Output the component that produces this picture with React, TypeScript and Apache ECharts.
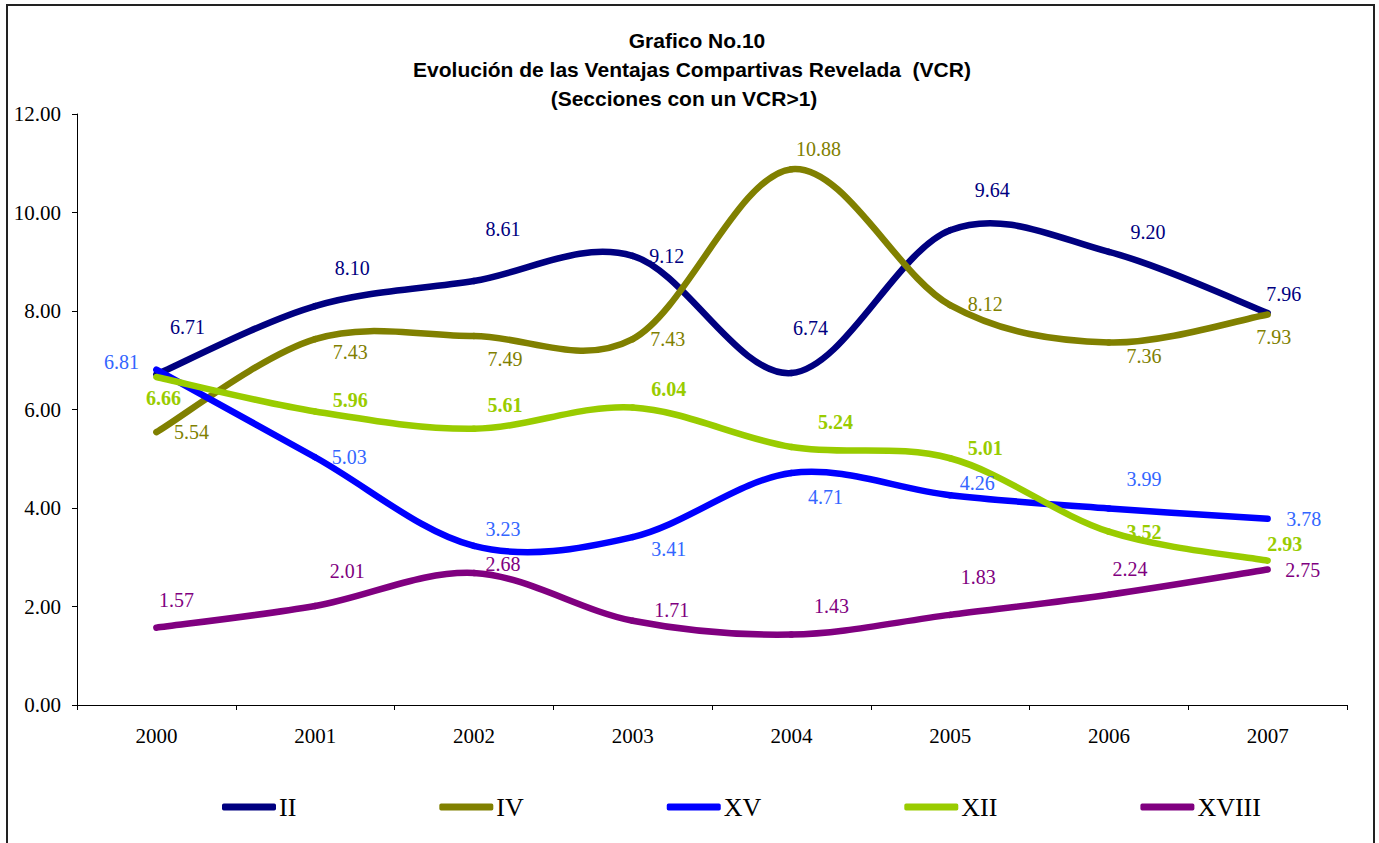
import React, { useEffect, useRef } from "react";
import * as echarts from "echarts";

const years = ["2000", "2001", "2002", "2003", "2004", "2005", "2006", "2007"];
const seriesNames = ["II", "IV", "XV", "XII", "XVIII"];
const valuesII = [6.71, 8.10, 8.61, 9.12, 6.74, 9.64, 9.20, 7.96];
const valuesIV = [5.54, 7.43, 7.49, 7.43, 10.88, 8.12, 7.36, 7.93];
const valuesXV = [6.81, 5.03, 3.23, 3.41, 4.71, 4.26, 3.99, 3.78];
const valuesXII = [6.66, 5.96, 5.61, 6.04, 5.24, 5.01, 3.52, 2.93];
const valuesXVIII = [1.57, 2.01, 2.68, 1.71, 1.43, 1.83, 2.24, 2.75];
const yTicks = { min: 0, max: 12, interval: 2 };
const titleLines = [
  "Grafico No.10",
  "Evolución de las Ventajas Compartivas Revelada  (VCR)",
  "(Secciones con un VCR>1)",
];

// label offsets (pixels, label centre relative to its point)
const offII = [[31, -48], [37, -38], [29, -52], [34, 0], [19, -45], [42, -40], [39, -20], [16, -19]];
const offIV = [[35, 0], [35, 13], [31, 23], [35, 0], [27, -20], [35, -1], [35, 13], [6, 23]];
const offXV = [[-35, -8], [34, 0], [29, -17], [36, 12], [34, 24], [27, -12], [35, -29], [36, 0]];
const offXII = [[7, 21], [35, -11], [31, -24], [36, -19], [44, -25], [35, -10], [35, 0], [17, -17]];
const offXVIII = [[20, -28], [32, -35], [29, -9], [39, -11], [40, -29], [28, -38], [21, -26], [35, 0]];

const lineColors = ["#000080", "#808000", "#0000FF", "#99CC00", "#800080"];
const labelColors = ["#000080", "#808000", "#3366FF", "#99CC00", "#800080"];
const labelBold = [false, false, false, true, false];

const SERIF = "'Liberation Serif', 'Times New Roman', serif";
const SANS = "'Liberation Sans', Arial, sans-serif";

export default function App() {
  const ref = useRef<HTMLDivElement>(null);
  useEffect(() => {
    if (!ref.current) return;
    const chart = echarts.init(ref.current, undefined, { renderer: "svg" });
    const allValues = [valuesII, valuesIV, valuesXV, valuesXII, valuesXVIII];
    const allOffsets = [offII, offIV, offXV, offXII, offXVIII];

    // Smoothed (Catmull-Rom style, like the spreadsheet's smoothed lines) curve series
    const curveSeries = seriesNames.map((name, si) => {
      const vals = allValues[si];
      return {
        name,
        type: "custom",
        coordinateSystem: "cartesian2d",
        itemStyle: { color: lineColors[si] },
        encode: { x: 0, y: 1 },
        z: 2,
        silent: true,
        data: vals.map((v, i) => [i, v]),
        renderItem: (params: any, api: any) => {
          const i = params.dataIndex;
          const n = vals.length;
          if (i >= n - 1) return { type: "group", children: [] };
          const p = (k: number) => {
            const kk = Math.max(0, Math.min(n - 1, k));
            return api.coord([kk, vals[kk]]);
          };
          const p0 = p(i - 1);
          const p1 = p(i);
          const p2 = p(i + 1);
          const p3 = p(i + 2);
          const t = 1 / 6;
          return {
            type: "bezierCurve",
            shape: {
              x1: p1[0],
              y1: p1[1],
              cpx1: p1[0] + (p2[0] - p0[0]) * t,
              cpy1: p1[1] + (p2[1] - p0[1]) * t,
              cpx2: p2[0] - (p3[0] - p1[0]) * t,
              cpy2: p2[1] - (p3[1] - p1[1]) * t,
              x2: p2[0],
              y2: p2[1],
            },
            style: {
              stroke: lineColors[si],
              fill: "none",
              lineWidth: 6.5,
              lineCap: "round",
            },
          };
        },
      };
    });

    const labelData: number[][] = [];
    allValues.forEach((vals, si) => vals.forEach((v, i) => labelData.push([i, v, si])));

    const labelSeries = {
      name: "labels",
      type: "custom",
      coordinateSystem: "cartesian2d",
      encode: { x: 0, y: 1 },
      z: 5,
      silent: true,
      data: labelData,
      renderItem: (params: any, api: any) => {
        const item = labelData[params.dataIndex];
        const i = item[0];
        const v = item[1];
        const si = item[2];
        const c = api.coord([i, v]);
        const off = allOffsets[si][i];
        return {
          type: "text",
          x: c[0] + off[0],
          y: c[1] + off[1],
          style: {
            text: v.toFixed(2),
            fill: labelColors[si],
            fontFamily: "Liberation Serif",
            fontSize: 20,
            fontWeight: labelBold[si] ? "bold" : "normal",
            align: "center",
            verticalAlign: "middle",
            textAlign: "center",
            textVerticalAlign: "middle",
          },
        };
      },
    };

    chart.setOption({
      animation: false,
      backgroundColor: "#ffffff",
      legend: {
        data: seriesNames.map((name, si) => ({ name, itemStyle: { color: lineColors[si] } })),
        left: 217,
        top: 789,
        itemWidth: 54,
        itemHeight: 7,
        itemGap: 143,
        icon: "roundRect",
        textStyle: { fontFamily: SERIF, fontSize: 26, color: "#000", lineHeight: 26, padding: [0, 0, 0, -2] },
        selectedMode: false,
      },
      grid: { left: 77, right: 32, top: 114, bottom: 138, containLabel: false },
      xAxis: {
        type: "category",
        data: years,
        boundaryGap: true,
        axisLine: { show: true, lineStyle: { color: "#000", width: 1 } },
        axisTick: { show: true, length: 5, inside: false, lineStyle: { color: "#000" } },
        axisLabel: { fontFamily: SERIF, fontSize: 21, color: "#000", margin: 20 },
        splitLine: { show: false },
      },
      yAxis: {
        type: "value",
        min: yTicks.min,
        max: yTicks.max,
        interval: yTicks.interval,
        axisLine: { show: true, lineStyle: { color: "#000", width: 1 } },
        axisTick: { show: true, length: 5, inside: false, lineStyle: { color: "#000" } },
        axisLabel: {
          fontFamily: SERIF,
          fontSize: 21,
          color: "#000",
          margin: 16,
          formatter: (v: number) => v.toFixed(2),
        },
        splitLine: { show: false },
      },
      graphic: [
        {
          type: "rect",
          shape: { x: 7, y: 5, width: 1367, height: 870 },
          style: { fill: "none", stroke: "#222", lineWidth: 2 },
          silent: true,
        },
        ...titleLines.map((t, k) => ({
          type: "text",
          x: [697, 692, 684][k],
          y: 40 + k * 29,
          silent: true,
          style: {
            text: t,
            fill: "#000",
            fontFamily: "Liberation Sans",
            fontWeight: "bold",
            fontSize: 21,
            align: "center",
            verticalAlign: "middle",
            textAlign: "center",
            textVerticalAlign: "middle",
          },
        })),
      ],
      series: [...curveSeries, labelSeries],
    });
    return () => chart.dispose();
  }, []);
  return (
    <div
      ref={ref}
      style={{ position: "absolute", left: 0, top: 0, width: 1379, height: 843 }}
    />
  );
}
